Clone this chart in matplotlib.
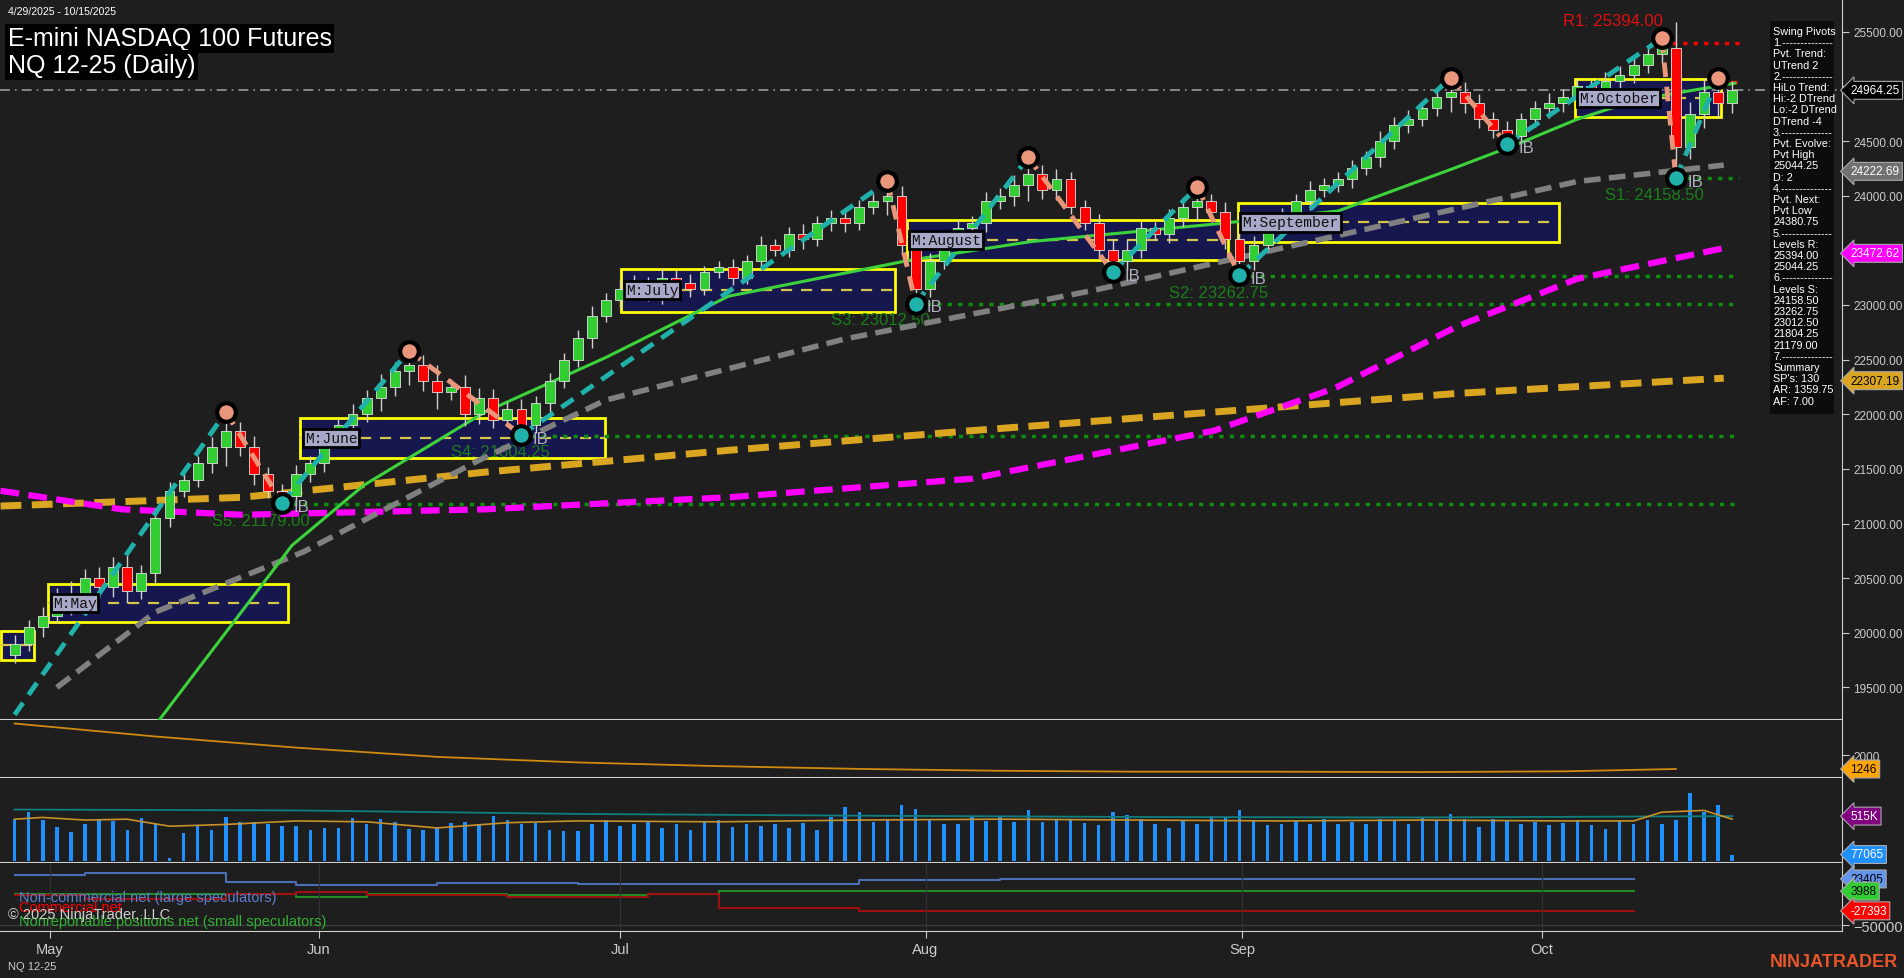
import matplotlib
matplotlib.use("Agg")
import matplotlib.pyplot as plt
import numpy as np

BG = "#1e1e1e"

# ---- price data (bar index 0 = 4/29/2025, 123 daily bars) ----
closes = [
    19900, 20050, 20150, 20350, 20280, 20500, 20420, 20600, 20380, 20550,
    21050, 21300, 21400, 21550, 21700, 21850, 21700, 21450, 21300, 21250,
    21450, 21550, 21750, 21900, 22000, 22150, 22250, 22400, 22450, 22300,
    22200, 22250, 22000, 22150, 21950, 22050, 21900, 22100, 22300, 22500,
    22700, 22900, 23050, 23150, 23200, 23100, 23250, 23200, 23150, 23300,
    23350, 23250, 23400, 23550, 23500, 23650, 23600, 23750, 23800, 23750,
    23900, 23950, 24000, 23550, 23150, 23400, 23600, 23700, 23750, 23950,
    24000, 24100, 24200, 24050, 24150, 23900, 23750, 23500, 23400, 23500,
    23700, 23650, 23800, 23900, 23950, 23850, 23600, 23400, 23550, 23700,
    23800, 23950, 24050, 24100, 24150, 24250, 24350, 24500, 24650, 24700,
    24800, 24900, 24950, 24850, 24700, 24600, 24550, 24700, 24800, 24850,
    24900, 25000, 24950, 25050, 25100, 25200, 25300, 25350, 24450, 24750,
    24950, 24850, 24964,
]
first_open = 19800
wicks = [
    80, 70, 90, 60, 120, 80, 100, 90, 110, 70,
    90, 80, 60, 70, 90, 170, 80, 100, 70, 60,
    90, 70, 80, 60, 90, 70, 120, 80, 130, 90,
    150, 70, 110, 90, 80, 60, 90, 70, 80, 60,
    70, 90, 60, 80, 70, 60, 90, 70, 80, 60,
    50, 70, 60, 80, 50, 60, 90, 60, 70, 80,
    60, 70, 130, 90, 140, 80, 70, 90, 60, 80,
    70, 90, 150, 80, 90, 70, 60, 80, 100, 90,
    70, 60, 80, 90, 130, 70, 90, 130, 80, 60,
    90, 70, 80, 60, 70, 80, 60, 90, 70, 80,
    60, 70, 130, 90, 80, 70, 80, 60, 70, 90,
    80, 70, 60, 80, 90, 70, 80, 90, 240, 110,
    130, 140, 90,
]

# swing pivots (bar, price)
pivot_x = [0, 15, 19, 28, 36, 62, 64, 72, 78, 84, 87, 102, 106, 117, 118, 121]
pivot_y = [19250, 22020, 21190, 22580, 21810, 24130, 23012, 24350, 23300,
           24080, 23270, 25080, 24470, 25440, 24160, 25080]

# moving averages (bar, value)
green_x = [10.2, 19.7, 24.8, 33.4, 42, 50.7, 63.6, 72.2, 85.2, 94, 102, 106.7, 111, 115.3, 122.2]
green_y = [19190, 20800, 21350, 22020, 22520, 23080, 23410, 23580, 23740, 23860, 24240, 24470,
           24700, 24880, 25030]
gray_x = [3, 10, 20.5, 33, 42, 59, 76.5, 93.8, 111, 121.4]
gray_y = [19500, 20190, 20740, 21580, 22130, 22690, 23130, 23630, 24130, 24280]
mag_x = [-1, 7.6, 16.2, 33.4, 50.7, 68, 85.2, 93.8, 102.4, 111, 121.4]
mag_y = [21300, 21130, 21080, 21130, 21240, 21410, 21850, 22240, 22800, 23240, 23520]
org_x = [-1, 16.2, 33.4, 50.7, 68, 85.2, 102.4, 121.4]
org_y = [21160, 21240, 21470, 21670, 21850, 22020, 22190, 22330]

# monthly boxes: label, start bar, end bar, low, high
months = ["", "M:May", "M:June", "M:July", "M:August", "M:September", "M:October"]
box_x0 = [-1.0, 2.4, 20.3, 43.1, 63.4, 86.9, 110.8]
box_x1 = [1.4, 19.4, 41.9, 62.5, 86.2, 109.7, 121.2]
box_lo = [19750, 20100, 21600, 22940, 23410, 23580, 24720]
box_hi = [20020, 20450, 21970, 23330, 23780, 23930, 25070]

# support / resistance levels
lvl_names = ["S5: 21179.00", "S4: 21804.25", "S3: 23012.50", "S2: 23262.75", "S1: 24158.50"]
lvl_price = [21179.0, 21804.25, 23012.5, 23262.75, 24158.5]
lvl_start = [19, 36, 64, 87, 118]
lvl_label_x = [14, 31, 58, 82, 113]

month_ticks = [2.5, 21.6, 43, 64.7, 87.2, 108.5]
month_names = ["May", "Jun", "Jul", "Aug", "Sep", "Oct"]
price_ticks = [19500, 20000, 20500, 21000, 21500, 22000, 22500, 23000, 23500,
               24000, 24500, 25000, 25500]

# ---- lower panels ----
ind_x = [0, 10, 20, 30, 40, 50, 60, 70, 80, 90, 100, 110, 118]
ind_y = [3700, 3000, 2400, 1900, 1600, 1400, 1250, 1150, 1100, 1100, 1080, 1120, 1246]

volume = [
    480, 560, 470, 390, 330, 420, 470, 460, 360, 490,
    420, 40, 320, 410, 360, 510, 450, 450, 420, 400,
    400, 360, 380, 380, 490, 420, 480, 450, 370, 360,
    390, 440, 450, 420, 520, 470, 420, 440, 360, 340,
    350, 420, 470, 400, 430, 450, 380, 420, 360, 450,
    470, 390, 420, 400, 430, 380, 440, 360, 500, 620,
    560, 450, 480, 640, 600, 470, 430, 420, 520, 460,
    510, 450, 580, 450, 480, 470, 440, 410, 560, 530,
    480, 430, 380, 460, 430, 520, 500, 590, 470, 410,
    430, 470, 420, 480, 420, 450, 430, 480, 460, 420,
    500, 470, 540, 480, 390, 480, 470, 420, 450, 410,
    440, 470, 410, 370, 470, 420, 470, 420, 470, 780,
    560, 640, 77,
]
vavg_x = [0, 2, 5, 8, 11, 15, 20, 25, 30, 35, 40, 50, 60, 70, 80, 90, 100, 110, 115, 117, 120, 122]
vavg_y = [480, 500, 470, 480, 400, 420, 460, 450, 380, 440, 460, 450, 470, 480, 470, 460, 470, 460, 460, 560, 580, 480]
vma_x = [0, 20, 40, 60, 80, 100, 122]
vma_y = [590, 580, 540, 520, 505, 500, 515]

cot_weeks_x = list(range(0, 125, 5))
cot_large = [29700, 33000, 33000, 18000, 13000, 13000, 17000, 17000, 15000, 15000,
             15000, 15000, 22000, 22000, 24000, 24000, 24000, 23405, 23405, 23405,
             23405, 23405, 23405, 23405, 23405]
cot_comm = [-2000, -8000, -8000, -1000, 3000, -2000, -2000, -5000, -5000, -1000,
            -23000, -23000, -27000, -27000, -27000, -27000, -27393, -27393, -27393, -27393,
            -27393, -27393, -27393, -27393, -27393]
cot_small = [-1000, -1000, -1000, -1000, -5000, 0, 0, -2000, -2000, -1000,
             4000, 4000, 4000, 4000, 4000, 4000, 3988, 3988, 3988, 3988,
             3988, 3988, 3988, 3988, 3988]

plt.rcParams["font.family"] = ["Liberation Sans", "DejaVu Sans"]
fig = plt.figure(figsize=(19.04, 9.79), dpi=100, facecolor=BG)
W, H = 1904.0, 979.0
R = 1842 / W
FS = 8.5


def panel(top, bottom):
    a = fig.add_axes([0, 1 - bottom / H, R, (bottom - top) / H], facecolor=BG)
    a.set_xlim(-1.04, 129.8)
    a.tick_params(left=False, labelleft=False, bottom=False, labelbottom=False,
                  right=True, labelright=True, colors="#cccccc", labelsize=FS,
                  pad=3, length=5)
    for s in a.spines.values():
        s.set_visible(False)
    a.spines["right"].set_visible(True)
    a.spines["right"].set_color("#d0d0d0")
    return a


def tag(a, y, text, fc, tc="white"):
    a.annotate(text, xy=(1.0, y), xycoords=("axes fraction", "data"),
               xytext=(6, 0), textcoords="offset points", va="center", ha="left",
               fontsize=FS, color=tc, annotation_clip=False,
               bbox=dict(boxstyle="larrow,pad=0.25", fc=fc, ec="#aaaaaa", lw=0.8))


ax = panel(0, 721)
ax.set_ylim(19202, 25800)
ax.set_yticks(price_ticks)
ax.set_yticklabels([f"{v:.2f}" for v in price_ticks])

idx = np.arange(len(closes))
opens = [first_open] + closes[:-1]
hi = [max(o, c) + w for o, c, w in zip(opens, closes, wicks)]
lo = [min(o, c) - w for o, c, w in zip(opens, closes, wicks)]

# monthly boxes
for name, x0, x1, l, h in zip(months, box_x0, box_x1, box_lo, box_hi):
    ax.add_patch(plt.Rectangle((x0, l), x1 - x0, h - l, fc="#17174f", ec="yellow",
                               lw=2, zorder=1))
    ax.plot([x0, x1], [(l + h) / 2] * 2, ls=(0, (5, 4)), color="#d4c64a", lw=1.6, zorder=2)
    if name:
        ax.text(x0 + 0.3, (l + h) / 2, name, fontsize=10.5, family="Liberation Mono",
                color="#111111", va="center", zorder=8,
                bbox=dict(fc="#a8a8c8", ec="black", lw=2, pad=1.5))

ax.axhline(24964.25, color="#9a9a9a", ls=(0, (6, 3, 1, 3)), lw=1.2, zorder=2)

for name, p, s, lx in zip(lvl_names, lvl_price, lvl_start, lvl_label_x):
    ax.plot([s, 122.5], [p, p], ls=(0, (1.2, 1.8)), color="#0f8f0f", lw=2.5, zorder=2)
    ax.text(lx, p - 80, name, color="#1a7f1a", fontsize=12, va="top", zorder=3)
ax.plot([117, 122.5], [25394, 25394], ls=(0, (1.2, 1.8)), color="red", lw=2.5)
ax.plot([121, 122.5], [25044.25, 25044.25], ls=(0, (2, 1.5)), color="red", lw=2.5)
ax.text(110, 25560, "R1: 25394.00", color="#e01010", fontsize=12)

ax.plot(org_x, org_y, color="#daa520", lw=5, ls=(0, (3, 1.5)), zorder=3)
ax.plot(mag_x, mag_y, color="#ff00ff", lw=4.5, ls=(0, (3, 1.5)), zorder=3)
ax.plot(gray_x, gray_y, color="#808080", lw=4, ls=(0, (3, 1.5)), zorder=3)
ax.plot(green_x, green_y, color="#3cd23c", lw=2.2, zorder=3)

# candles
for i, o, c, h, l in zip(idx, opens, closes, hi, lo):
    col = "#32cd32" if c >= o else "#ff0000"
    ax.vlines(i, l, h, color="#d0d0d0", lw=1, zorder=4)
    ax.bar(i, max(abs(c - o), 15), bottom=min(o, c), width=0.7, color=col,
           edgecolor="#e0e0e0", lw=0.6, zorder=5)

# swing lines and pivots
for k in range(len(pivot_x) - 1):
    up = pivot_y[k + 1] > pivot_y[k]
    ax.plot(pivot_x[k:k + 2], pivot_y[k:k + 2], color="#20b2aa" if up else "#e9967a",
            lw=3.5, ls=(0, (3, 2)), zorder=6)
for k, (px, py) in enumerate(zip(pivot_x, pivot_y)):
    if k == 0:
        continue
    high = pivot_y[k] > pivot_y[k - 1]
    ax.scatter(px, py, s=180, c="#e9967a" if high else "#20b2aa", edgecolors="black",
               linewidths=3, zorder=7)
    if not high:
        ax.text(px + 0.8, py - 30, "IB", color="#b0b0c0", fontsize=12, va="center", zorder=7)

tag(ax, 24964.25, "24964.25", "black")
tag(ax, 24222.69, "24222.69", "#707070")
tag(ax, 23472.62, "23472.62", "#ff00ff")
tag(ax, 22307.19, "22307.19", "#daa520", "black")

# title
fig.text(0.004, 0.993, "4/29/2025 - 10/15/2025", color="white", fontsize=7.5, va="top")
fig.text(0.004, 0.972, "E-mini NASDAQ 100 Futures", color="white", fontsize=18, va="top",
         bbox=dict(fc="black", ec="none", pad=2))
fig.text(0.004, 0.945, "NQ 12-25 (Daily)", color="white", fontsize=18, va="top",
         bbox=dict(fc="black", ec="none", pad=2))

# swing pivots box
pivot_text = ("Swing Pivots\n1.--------------\nPvt. Trend:\nUTrend 2\n2.--------------\n"
              "HiLo Trend:\nHi:-2 DTrend\nLo:-2 DTrend\nDTrend -4\n3.--------------\n"
              "Pvt. Evolve:\nPvt High\n25044.25\nD: 2\n4.--------------\nPvt. Next:\n"
              "Pvt Low\n24380.75\n5.--------------\nLevels R:\n25394.00\n25044.25\n"
              "6.--------------\nLevels S:\n24158.50\n23262.75\n23012.50\n21804.25\n"
              "21179.00\n7.--------------\nSummary\nSP's: 130\nAR: 1359.75\nAF: 7.00")
fig.patches.append(plt.Rectangle((1770 / W, 1 - 415 / H), 64 / W, 393 / H,
                                 transform=fig.transFigure, fc="#0c0c0c", ec="none"))
fig.text(1773 / W, 1 - 27 / H, pivot_text, color="white", fontsize=7.8, va="top",
         linespacing=1.15)

# panel 2
a2 = panel(721, 779)
a2.set_ylim(760, 3890)
a2.set_yticks([2000])
a2.plot(ind_x, ind_y, color="#d08a10", lw=1.3)
tag(a2, 1246, "1246", "#ffa500", "black")

# panel 3 volume
a3 = panel(779, 864)
a3.set_ylim(-20, 950)
a3.set_yticks([])
a3.bar(np.arange(len(volume)), volume, width=0.25, color="#1e90ff")
a3.plot(vma_x, vma_y, color="#0f7f7f", lw=1.3)
a3.plot(vavg_x, vavg_y, color="#c8902a", lw=1.2)
tag(a3, 515, "515K", "#800080")
tag(a3, 77, "77065", "#1e90ff")

# panel 4 COT
a4 = panel(864, 932)
a4.set_ylim(-59500, 48800)
a4.set_yticks([-50000])
a4.axhline(-50000, color="#3a3a3a", lw=1)
a4.step(cot_weeks_x[:-1], cot_large[:-1], where="post", color="#4a6fb5", lw=1.5)
a4.step(cot_weeks_x[:-1], cot_small[:-1], where="post", color="#228b22", lw=1.5)
a4.step(cot_weeks_x[:-1], cot_comm[:-1], where="post", color="#a01010", lw=1.5)
tag(a4, 23405, "23405", "#6495ed", "black")
tag(a4, 3988, "3988", "#32cd32", "black")
tag(a4, -27393, "-27393", "red")
a4.text(0.3, -12000, "Non-commercial net (large speculators)", color="#5b7fd0", fontsize=10.5)
a4.text(0.3, -27000, "Commercial net", color="red", fontsize=10.5)
a4.text(0.3, -50000, "Nonreportable positions net (small speculators)", color="#32b432", fontsize=10.5)
a4.text(-0.5, -39000, "\u00a9 2025 NinjaTrader, LLC", color="#d0d0d0", fontsize=10.5)
for t in month_ticks:
    a4.axvline(t, color="#333333", lw=0.8)
a4.set_xticks(month_ticks)
a4.set_xticklabels(month_names)
a4.tick_params(bottom=True, labelbottom=True, colors="#cccccc", labelsize=10.5)
a4.spines["bottom"].set_visible(True)
a4.spines["bottom"].set_color("#d0d0d0")

for a in (ax, a2, a3):
    a.axhline(a.get_ylim()[0], color="#d0d0d0", lw=1.5)

fig.text(0.004, 0.009, "NQ 12-25", color="#cccccc", fontsize=8)
fig.text(0.997, 0.012, "NINJATRADER", color="#e8552a", fontsize=13, weight="bold", ha="right")

fig.savefig("out.png", dpi=100, facecolor=BG)
